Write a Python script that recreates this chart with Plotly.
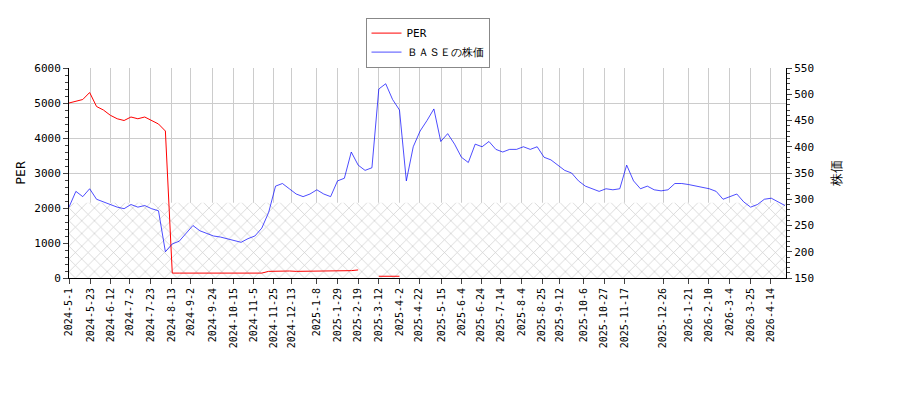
import datetime as dt
import plotly.graph_objects as go

start = dt.date(2024, 5, 1)
price = [285, 315, 305, 320, 300, 295, 290, 285, 282, 290, 285, 288, 282, 278, 200,
         215, 220, 235, 250, 240, 235, 230, 228, 225, 222, 218, 225, 230, 245, 275,
         325, 330, 320, 310, 305, 310, 318, 310, 305, 335, 340, 390, 365, 355, 360,
         510, 520, 490, 470, 335, 400, 430, 450, 472, 410, 425, 405, 380, 370, 405,
         400, 410, 395, 390, 395, 395, 400, 395, 400, 380, 375, 365, 355, 350, 335,
         325, 320, 315, 320, 318, 320, 365, 335, 320, 325, 318, 316, 318, 330, 330,
         328, 325, 322, 320, 315, 300, 305, 310, 295, 285, 290, 300, 302, 295, 288]
per = [5000, 5050, 5100, 5300, 4900, 4800, 4650, 4550, 4500, 4600, 4550, 4600, 4500, 4400, 4200,
       140, 140, 140, 140, 140, 140, 140, 140, 140, 140, 140, 140, 140, 140, 190,
       200, 200, 200, 190, 190, 195, 190, 190, 195, 200, 205, 210, 230, None, None,
       50, 50, 50, 50] + [None] * 56
dates = [start + dt.timedelta(days=7 * i) for i in range(len(price))]

tick_text = ["2024-5-1", "2024-5-23", "2024-6-12", "2024-7-2", "2024-7-23", "2024-8-13",
             "2024-9-2", "2024-9-24", "2024-10-15", "2024-11-5", "2024-11-25", "2024-12-13",
             "2025-1-8", "2025-1-29", "2025-2-19", "2025-3-12", "2025-4-2", "2025-4-22",
             "2025-5-15", "2025-6-4", "2025-6-24", "2025-7-14", "2025-8-4", "2025-8-25",
             "2025-9-12", "2025-10-6", "2025-10-27", "2025-11-17", "2025-12-26", "2026-1-21",
             "2026-2-10", "2026-3-4", "2026-3-25", "2026-4-14"]
tick_dates = [dt.date(*map(int, t.split("-"))) for t in tick_text]
end = dates[-1] + dt.timedelta(days=1)

mono = "DejaVu Sans Mono"
fig = go.Figure()
fig.add_trace(go.Scatter(x=[start, end], y=[2150, 2150], mode="lines", line=dict(width=0),
                         fill="tozeroy", fillcolor="rgba(0,0,0,0)",
                         fillpattern=dict(shape="x", fgcolor="#999999", bgcolor="white", size=9, solidity=0.15),
                         showlegend=False, hoverinfo="skip"))
fig.add_trace(go.Scatter(x=dates, y=per, mode="lines", name="PER", line=dict(color="red", width=1)))
fig.add_trace(go.Scatter(x=dates, y=price, mode="lines", name="ＢＡＳＥの株価",
                         line=dict(color="blue", width=0.7), yaxis="y2"))

fig.update_layout(
    width=900, height=400, margin=dict(l=61, r=122, t=60, b=130, autoexpand=False),
    paper_bgcolor="white", plot_bgcolor="white",
    font=dict(family=mono, size=11, color="black"),
    legend=dict(x=0.5, y=1.24, xanchor="center", yanchor="top", bordercolor="#888", borderwidth=1,
                font=dict(family=mono, size=11)),
    xaxis=dict(range=[start, end], tickvals=tick_dates, ticktext=tick_text, tickangle=-90,
               tickfont=dict(size=10), showgrid=True, gridcolor="#cccccc", showline=True,
               linecolor="black", ticks="outside", automargin=False),
    yaxis=dict(title=dict(text="PER", standoff=5), range=[0, 6000], dtick=1000, showgrid=True,
               gridcolor="#cccccc", showline=True, linecolor="black", ticks="outside",
               zeroline=False, automargin=False, minor=dict(ticks="outside", dtick=200, ticklen=3)),
    yaxis2=dict(title=dict(text="株価", standoff=18), overlaying="y", side="right", range=[150, 550],
                dtick=50, showgrid=False, showline=True, linecolor="black", ticks="outside",
                automargin=False, minor=dict(ticks="outside", dtick=10, ticklen=3)),
)
fig.write_html("out.html")
